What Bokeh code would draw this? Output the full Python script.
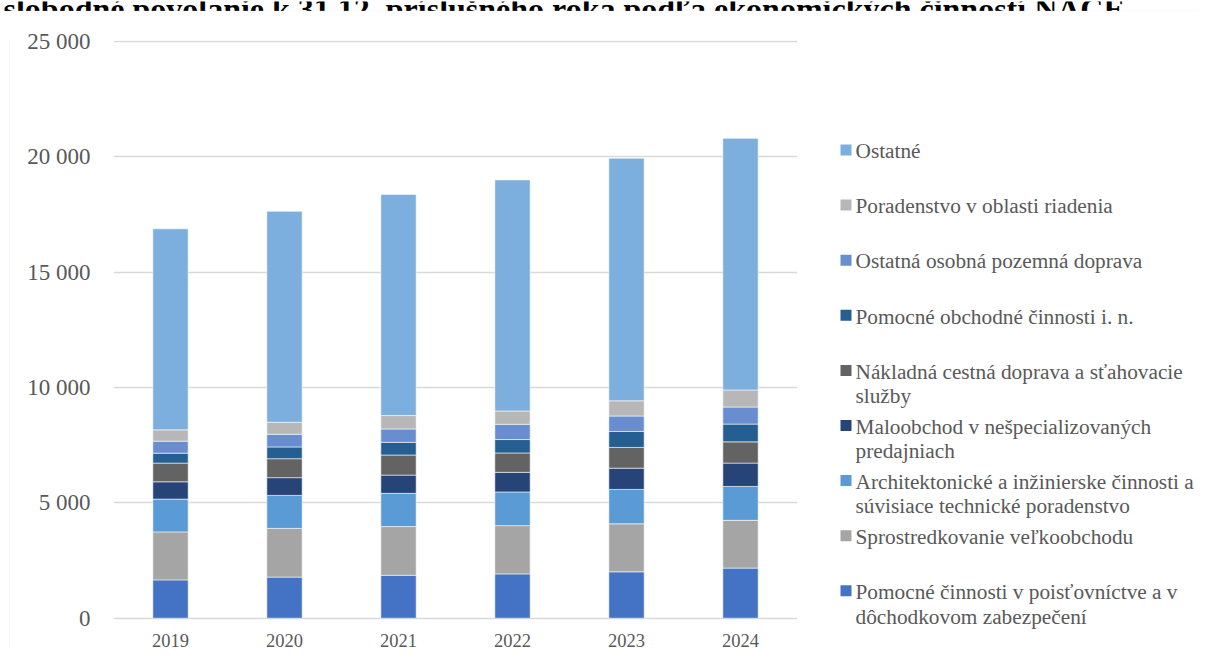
from bokeh.plotting import figure
from bokeh.layouts import column, row
from bokeh.models import FactorRange, FixedTicker, Range1d, ColumnDataSource, BoxAnnotation
from bokeh.core.properties import value
from bokeh.embed import file_html
from bokeh.resources import INLINE

# ---------------- data ----------------
years = ["2019", "2020", "2021", "2022", "2023", "2024"]

series = [
    "Pomocné činnosti v poisťovníctve a v dôchodkovom zabezpečení",
    "Sprostredkovanie veľkoobchodu",
    "Architektonické a inžinierske činnosti a súvisiace technické poradenstvo",
    "Maloobchod v nešpecializovaných predajniach",
    "Nákladná cestná doprava a sťahovacie služby",
    "Pomocné obchodné činnosti i. n.",
    "Ostatná osobná pozemná doprava",
    "Poradenstvo v oblasti riadenia",
    "Ostatné",
]
legend_labels = [
    "Pomocné činnosti v poisťovníctve a v\ndôchodkovom zabezpečení",
    "Sprostredkovanie veľkoobchodu",
    "Architektonické a inžinierske činnosti a\nsúvisiace technické poradenstvo",
    "Maloobchod v nešpecializovaných\npredajniach",
    "Nákladná cestná doprava a sťahovacie\nslužby",
    "Pomocné obchodné činnosti i. n.",
    "Ostatná osobná pozemná doprava",
    "Poradenstvo v oblasti riadenia",
    "Ostatné",
]

poistovnictvo = [1660, 1780, 1860, 1920, 2010, 2170]
velkoobchod = [2080, 2110, 2110, 2090, 2080, 2070]
architektura = [1420, 1430, 1440, 1460, 1490, 1470]
maloobchod = [750, 770, 790, 850, 920, 1010]
nakladna_doprava = [810, 820, 870, 840, 900, 920]
pomocne_obchodne = [430, 510, 550, 580, 690, 770]
osobna_doprava = [520, 550, 580, 660, 670, 740]
poradenstvo = [490, 520, 580, 580, 660, 740]
ostatne = [8710, 9140, 9580, 10010, 10510, 10900]

values = [poistovnictvo, velkoobchod, architektura, maloobchod, nakladna_doprava,
          pomocne_obchodne, osobna_doprava, poradenstvo, ostatne]

colors = ["#4472C4", "#A5A5A5", "#5B9BD5", "#264478", "#636363",
          "#255E91", "#698ED0", "#B7B7B7", "#7CAFDD"]

y_ticks = [0, 5000, 10000, 15000, 20000, 25000]
y_tick_labels = ["0", "5 000", "10 000", "15 000", "20 000", "25 000"]

title_text = "slobodné povolanie k 31.12. príslušného roka podľa ekonomických činností NACE"

# ---------------- style / layout ----------------
FONT = "Liberation Serif"
TXT = "#595959"
GRID = "#D9D9D9"
TOTAL_W = 1198
TITLE_H = 11
STRIP_W = 10
FW = 684
MAIN_L, MAIN_R = 103, 3
MAIN_T, MAIN_B = 29, 5
FRAME_TOP = TITLE_H + MAIN_T          # page y of frame top (40)
FH = 608
FRAME_BOT = FRAME_TOP + FH            # page y of frame bottom (648)
PX_PER_1000 = 23.08                   # vertical scale of the reference
Y0_PAGE, YTOP_PAGE = 617.7, 40.7      # page y of 0 and 25 000
MAIN_W = MAIN_L + FW + MAIN_R
LEG_LEFT = STRIP_W + MAIN_W
LEG_W = TOTAL_W - LEG_LEFT


def panel(frame_w, x0, x1):
    f = figure(frame_width=frame_w, frame_height=FH, x_range=Range1d(x0, x1),
               y_range=Range1d(FRAME_BOT, FRAME_TOP),
               min_border_left=0, min_border_right=0, min_border_top=MAIN_T, min_border_bottom=MAIN_B,
               x_axis_type=None, y_axis_type=None, output_backend="svg", toolbar_location=None, title=None)
    f.outline_line_color = None
    f.grid.visible = False
    f.background_fill_color = "white"
    f.border_fill_color = "white"
    return f


# title strip (title cut off at the top as in the reference) + top border
tf = figure(width=TOTAL_W, height=TITLE_H, x_range=Range1d(0, TOTAL_W), y_range=Range1d(TITLE_H, 0),
            x_axis_type=None, y_axis_type=None, output_backend="svg", toolbar_location=None,
            min_border=0, min_border_left=0, min_border_right=0, min_border_top=0, min_border_bottom=0,
            title=None)
tf.outline_line_color = None
tf.grid.visible = False
tf.text(x=[3], y=[7], text=[title_text], text_font=value(FONT), text_font_style="bold",
        text_font_size="32px", text_color="black", text_baseline="alphabetic", text_align="left")
tf.add_layout(BoxAnnotation(left=9.5, right=TOTAL_W + 50, top=9.5, bottom=TITLE_H + 50,
                            fill_alpha=0, line_color=GRID, line_width=1.2))

# left border strip
sf = panel(STRIP_W, 0, STRIP_W)
sf.add_layout(BoxAnnotation(left=9.5, right=STRIP_W + 50, top=0, bottom=800,
                            fill_alpha=0, line_color=GRID, line_width=1.2))

# main chart: frame extends a little below zero so that the legend panel stays unclipped
y_start = -(FRAME_BOT - Y0_PAGE) / PX_PER_1000 * 1000
y_end = 25000 + (YTOP_PAGE - FRAME_TOP) / PX_PER_1000 * 1000
p = figure(
    x_range=FactorRange(*years, range_padding=0),
    y_range=Range1d(y_start, y_end),
    frame_width=FW, frame_height=FH,
    min_border_left=MAIN_L, min_border_right=MAIN_R, min_border_top=MAIN_T, min_border_bottom=MAIN_B,
    output_backend="svg", toolbar_location=None, title=None,
)
p.outline_line_color = None
p.background_fill_color = "white"
p.border_fill_color = "white"

keys = [f"s{i}" for i in range(len(series))]
data = {"year": years}
for k, v in zip(keys, values):
    data[k] = v
src = ColumnDataSource(data)
p.vbar_stack(keys, x="year", width=0.31, source=src,
             fill_color=colors, line_color="white", line_width=0.8, line_alpha=0.7)

p.yaxis.ticker = FixedTicker(ticks=y_ticks)
p.yaxis.major_label_overrides = dict(zip(y_ticks, y_tick_labels))
for ax in (p.xaxis, p.yaxis):
    ax.axis_line_color = None
    ax.major_tick_line_color = None
    ax.minor_tick_line_color = None
    ax.major_label_text_font = FONT
    ax.major_label_text_color = TXT
p.yaxis.major_label_text_font_size = "23px"
p.yaxis.major_label_standoff = 17
p.xaxis.major_label_text_font_size = "18.5px"
p.xaxis.major_label_standoff = int(round(627 - FRAME_BOT))
p.xgrid.visible = False
p.ygrid.grid_line_color = GRID
p.ygrid.grid_line_width = 1.3

# legend panel (page-pixel coordinates)
lf = panel(LEG_W, LEG_LEFT, LEG_LEFT + LEG_W)
order = list(range(len(series)))[::-1]
sq_x, sq_y, sq_c = [], [], []
tx, ty, tt = [], [], []
for i, idx in enumerate(order):
    cy = 150.7 + 55.1 * i
    sq_x.append(845.5)
    sq_y.append(cy - 1.2)
    sq_c.append(colors[idx])
    for j, line in enumerate(legend_labels[idx].split("\n")):
        tx.append(855)
        ty.append(cy + 24.5 * j)
        tt.append(line)
lf.rect(x=sq_x, y=sq_y, width=11, height=11, fill_color=sq_c, line_color=None)
lf.text(x=tx, y=ty, text=tt, text_font=value(FONT), text_font_size="21.3px",
        text_color=TXT, text_baseline="middle", text_align="left")

layout = column(tf, row(sf, p, lf, spacing=0), spacing=0)
open("out.html", "w").write(file_html(layout, INLINE))
